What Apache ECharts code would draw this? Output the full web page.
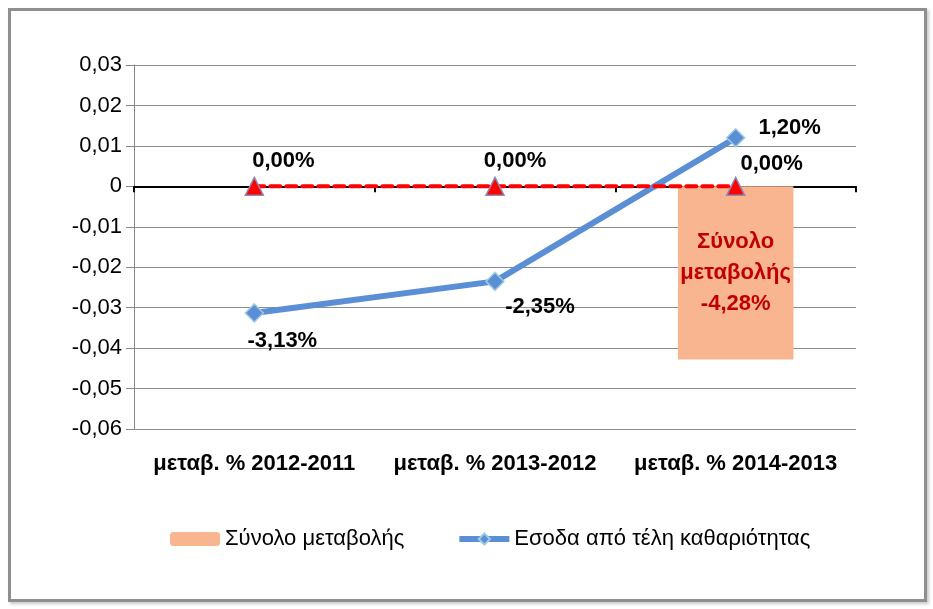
<!DOCTYPE html>
<html>
<head>
<meta charset="utf-8">
<script src="https://cdn.jsdelivr.net/npm/echarts@6/dist/echarts.min.js"></script>
<style>
  html, body { margin: 0; padding: 0; background: #fff; }
  #frame { position: absolute; left: 8px; top: 8px; width: 913px; height: 588px;
           border: 3px solid #8f8f8f; box-shadow: 2px 2px 3px #c8c8c8; }
  #main { position: absolute; left: 0; top: 0; width: 933px; height: 609px; }
</style>
</head>
<body>
<div id="frame"></div>
<div id="main"></div>
<script>
// data
const categories = ['μεταβ. % 2012-2011', 'μεταβ. % 2013-2012', 'μεταβ. % 2014-2013'];
const totalChange = [null, null, -0.0428];
const cleaningFees = [-0.0313, -0.0235, 0.012];
const zeroRef = [0, 0, 0];
const totalName = 'Σύνολο μεταβολής';
const feesName = 'Εσοδα από τέλη καθαριότητας';

const font = 'Liberation Sans';
const pct = v => (v * 100).toFixed(2).replace('.', ',') + '%';

// label placement per point (style only)
const feeLabelPos = [['bottom', [28, 2]], ['bottom', [45, 0]], ['right', [8, -10]]];
const zeroLabelOff = [[29, 0], [20, 0], [36, 3]];

const chart = echarts.init(document.getElementById('main'));
chart.setOption({
  animation: false,
  grid: { left: 134, right: 77, top: 65, bottom: 180 },
  legend: {
    data: [
      { name: totalName },
      { name: feesName, lineStyle: { width: 6 } }
    ],
    left: 165, top: 523,
    itemGap: 52, itemWidth: 50, itemHeight: 14,
    textStyle: { fontFamily: font, fontSize: 22, color: '#000' }
  },
  xAxis: {
    type: 'category',
    data: categories,
    axisLine: { onZero: true, lineStyle: { color: '#000', width: 2 } },
    axisTick: { show: true, length: 6, lineStyle: { color: '#000', width: 2 } },
    axisLabel: {
      interval: 0, hideOverlap: false,
      fontFamily: font, fontWeight: 'bold', fontSize: 22, color: '#000',
      margin: 24
    },
    position: 'bottom'
  },
  yAxis: {
    type: 'value', min: -0.06, max: 0.03, interval: 0.01,
    axisLine: { show: true, lineStyle: { color: '#868686' } },
    axisTick: { show: true, length: 8, lineStyle: { color: '#868686' } },
    splitLine: { lineStyle: { color: '#8c8c8c' } },
    axisLabel: {
      fontFamily: font, fontSize: 22, color: '#000', margin: 12,
      formatter: v => Math.abs(v) < 1e-9 ? '0' : v.toFixed(2).replace('.', ',')
    }
  },
  series: [
    {
      name: totalName, type: 'bar', data: totalChange, barWidth: '48%',
      itemStyle: { color: '#f8b58f' },
      label: {
        show: true, position: 'inside',
        formatter: p => 'Σύνολο\nμεταβολής\n' + pct(p.value),
        fontFamily: font, fontWeight: 'bold', fontSize: 22, lineHeight: 31, color: '#c00000'
      },
      z: 1
    },
    {
      name: feesName, type: 'line',
      data: cleaningFees.map((v, i) => ({
        value: v,
        label: { position: feeLabelPos[i][0], offset: feeLabelPos[i][1] }
      })),
      symbol: 'diamond', symbolSize: 18,
      lineStyle: { color: '#5a8fd6', width: 6 },
      itemStyle: { color: '#5a8fd6', borderColor: '#9fcbe3', borderWidth: 1.5 },
      label: {
        show: true, formatter: p => pct(p.value),
        fontFamily: font, fontWeight: 'bold', fontSize: 22, color: '#000'
      },
      z: 3
    },
    {
      name: 'zero', type: 'line',
      data: zeroRef.map((v, i) => ({ value: v, label: { offset: zeroLabelOff[i] } })),
      symbol: 'triangle', symbolSize: 18,
      lineStyle: { color: '#ff0000', width: 4, type: [10, 6], cap: 'round' },
      itemStyle: { color: '#ff0000', borderColor: '#8e87b5', borderWidth: 1.5 },
      label: {
        show: true, position: 'top', formatter: p => pct(p.value),
        fontFamily: font, fontWeight: 'bold', fontSize: 22, color: '#000'
      },
      z: 4
    }
  ]
});
</script>
</body>
</html>
